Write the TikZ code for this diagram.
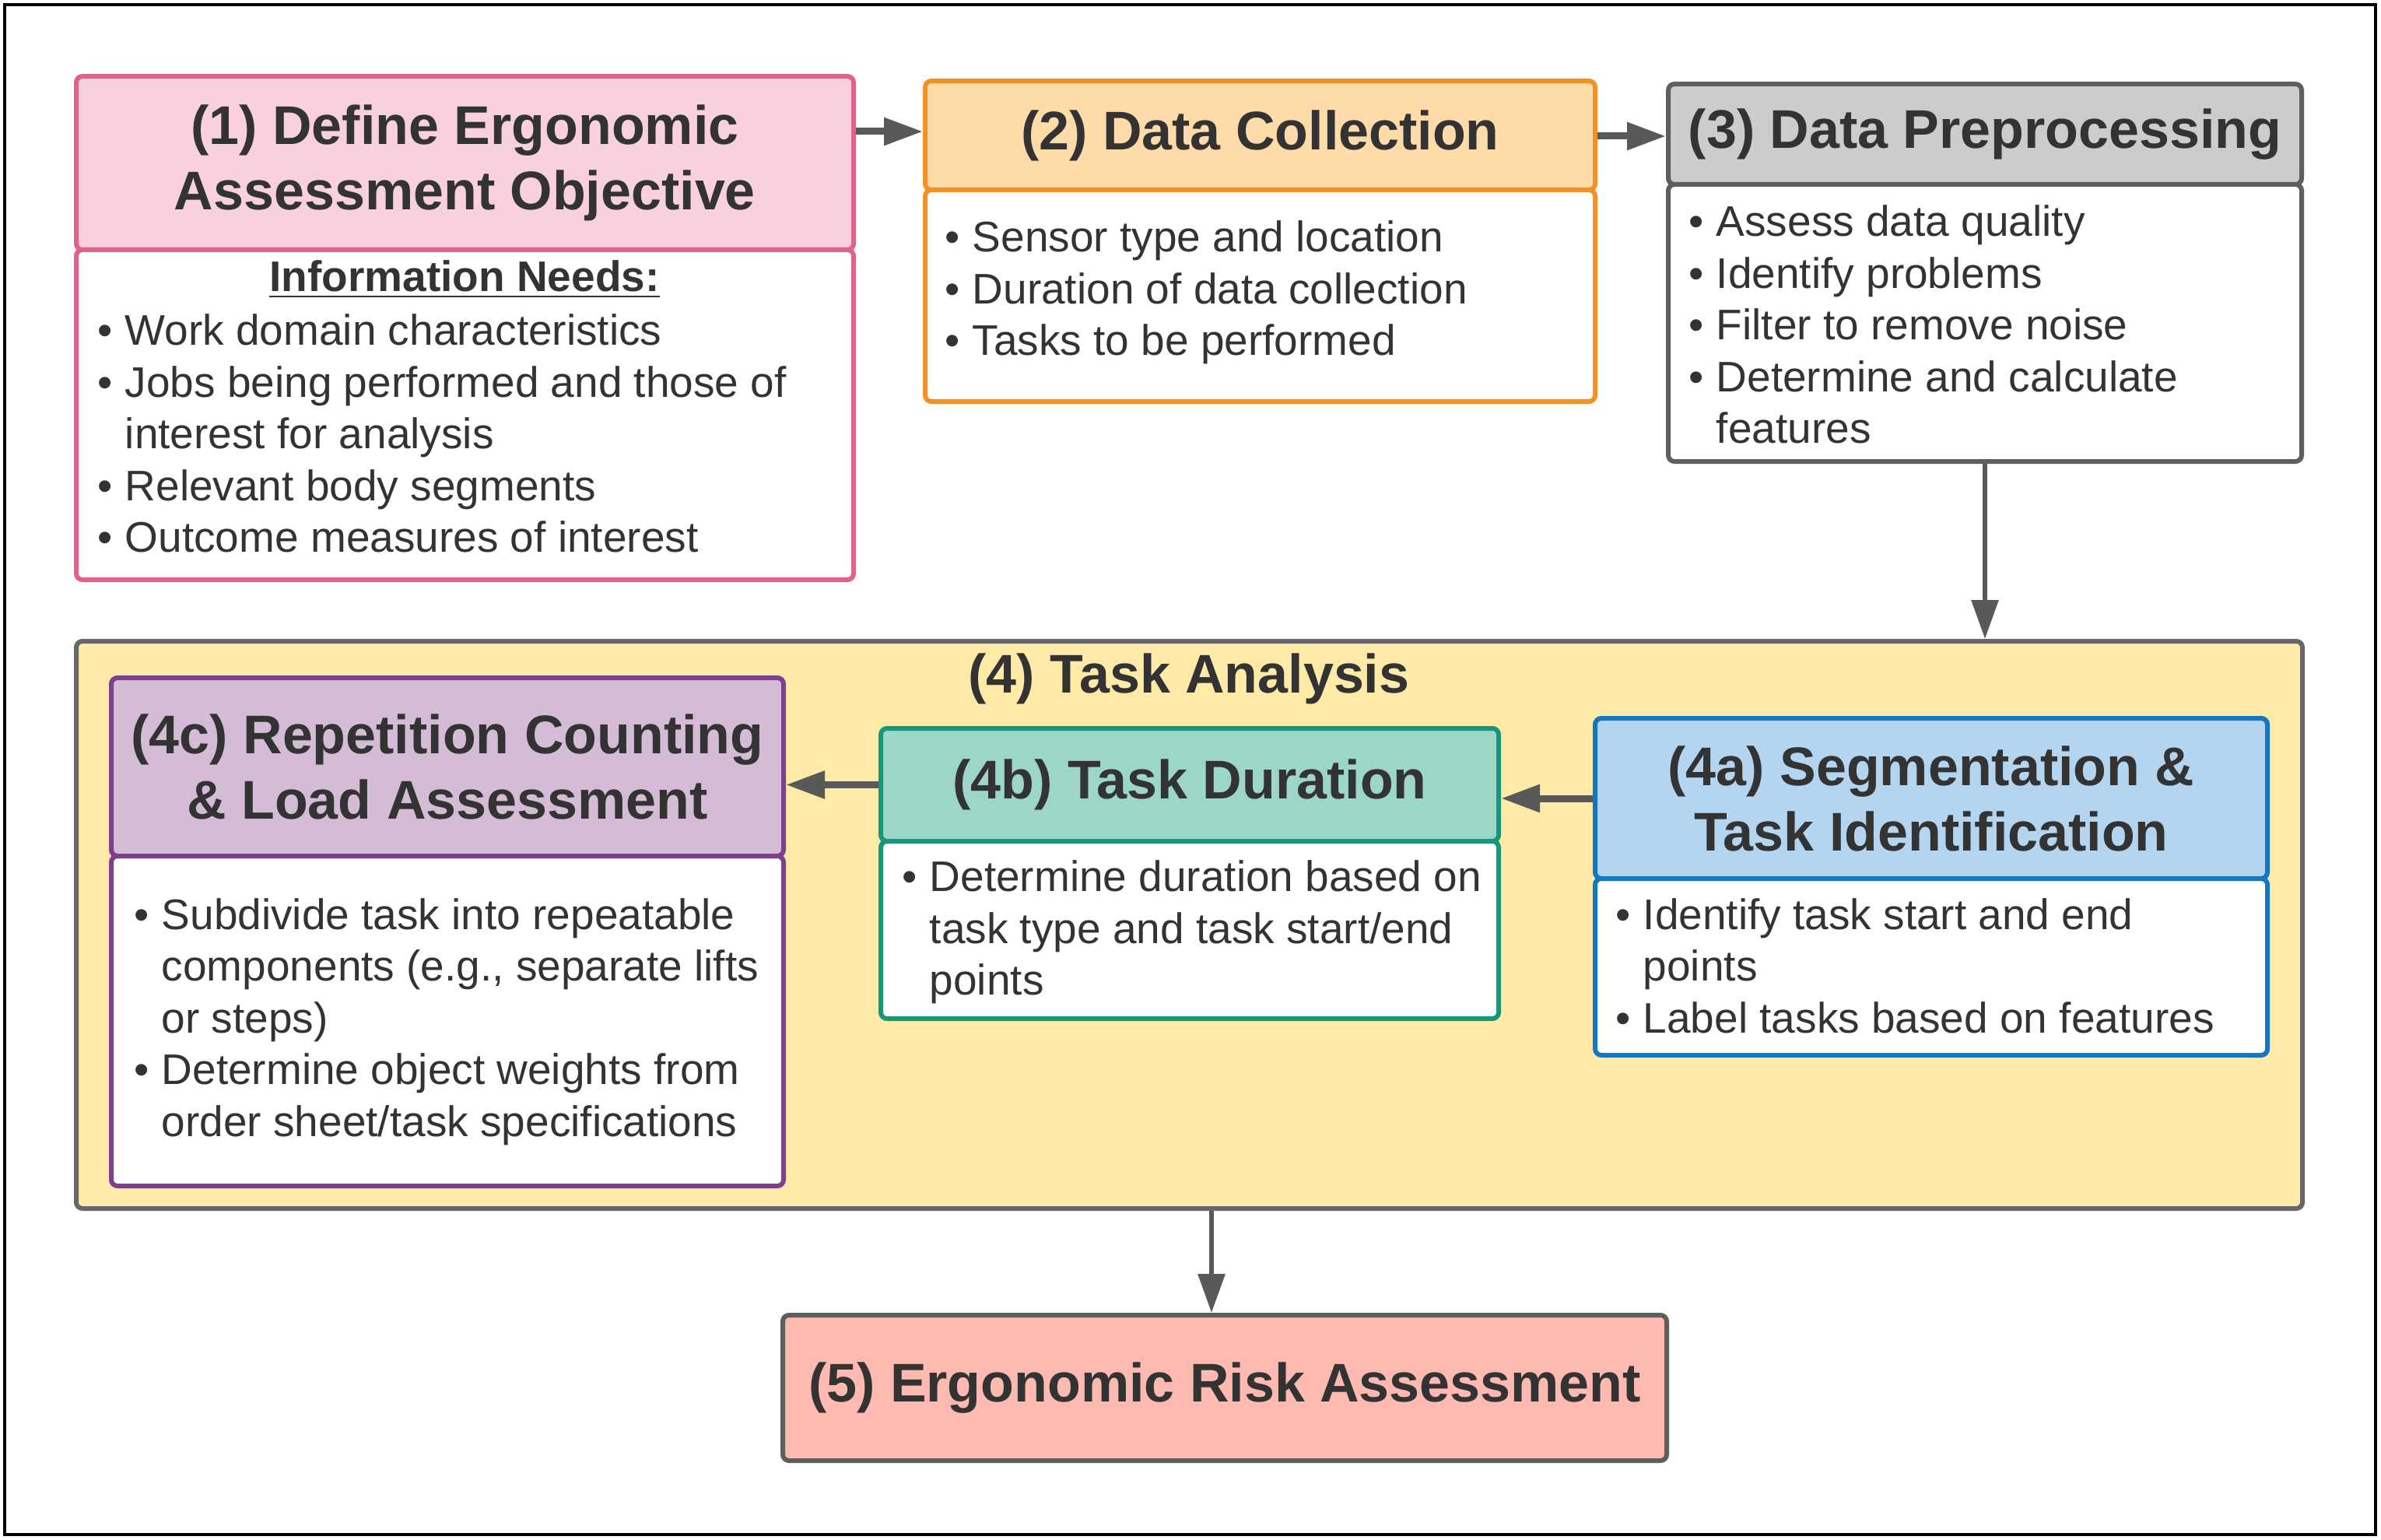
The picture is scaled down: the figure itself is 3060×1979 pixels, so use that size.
\documentclass[tikz,border=0pt]{standalone}
\usepackage{fontspec}
\setmainfont{Liberation Sans}
\usetikzlibrary{arrows.meta,calc}

\definecolor{textgray}{HTML}{333333}
\definecolor{arrowgray}{HTML}{595959}
\definecolor{pinkfill}{HTML}{F9D1DC}
\definecolor{pinkline}{HTML}{E0618A}
\definecolor{orangefill}{HTML}{FEDBA8}
\definecolor{orangeline}{HTML}{F29226}
\definecolor{grayfill}{HTML}{CCCCCC}
\definecolor{grayline}{HTML}{5E5E5E}
\definecolor{yellowfill}{HTML}{FFEAA7}
\definecolor{yellowline}{HTML}{676767}
\definecolor{purplefill}{HTML}{D4BCD6}
\definecolor{purpleline}{HTML}{7E3F8C}
\definecolor{tealfill}{HTML}{9BD6C9}
\definecolor{tealline}{HTML}{16977A}
\definecolor{bluefill}{HTML}{B3D5EF}
\definecolor{blueline}{HTML}{1577BF}
\definecolor{salmonfill}{HTML}{FEBAB1}

\newcommand\hdrfont{\fontsize{17.5}{21}\selectfont\bfseries}
\newcommand\txtfont{\fontsize{13.75}{16.6}\selectfont}
\newcommand\bitem{\makebox[8.75pt][l]{\textbullet}}
\newcommand\bcont{\hspace*{8.75pt}}

\begin{document}
\begin{tikzpicture}[x=0.25pt, y=-0.25pt, text=textgray,
  % box size given in the same units as the coordinates
  size/.style n args={2}{minimum width=#1*0.25pt, minimum height=#2*0.25pt},
  box/.style={draw, rounded corners=2pt, line width=1.5pt, inner sep=0pt},
  hdr/.style={box, align=center, font=\hdrfont},
  body/.style={box, fill=white},
  txt/.style={align=left, anchor=west, font=\txtfont, inner sep=0pt},
  flow/.style={draw=arrowgray, line width=2.25pt, -{Triangle[length=12.5pt,width=8.5pt]}},
  vflow/.style={flow, line width=1.5pt}]

% page and outer frame
\useasboundingbox (0,0) rectangle (3060,1979);
\fill[white] (0,0) rectangle (3060,1979);
\node[draw=black, line width=1.1pt, inner sep=0pt, size={3047}{1966}] (frame) at (1529.5,989) {};

% (1) objective
\node[body, draw=pinkline, size={999}{424}] (b1b) at (597.5,533) {};
\node[hdr, fill=pinkfill, draw=pinkline, size={999}{223}] (b1h) at (597.5,209.5) {(1) Define Ergonomic\\Assessment Objective};
\node[font=\txtfont\bfseries, inner sep=0pt] (b1i) at (597,359) {\underline{Information Needs:}};
\node[txt] (b1t) at (125,557) {\bitem Work domain characteristics\\
  \bitem Jobs being performed and those of\\
  \bcont interest for analysis\\
  \bitem Relevant body segments\\
  \bitem Outcome measures of interest};

% (2) data collection
\node[body, draw=orangeline, size={861}{272}] (b2b) at (1619.5,380) {};
\node[hdr, fill=orangefill, draw=orangeline, size={861}{140}] (b2h) at (1619.5,174) {(2) Data Collection};
\node[txt] (b2t) at (1214,376) {\bitem Sensor type and location\\
  \bitem Duration of data collection\\
  \bitem Tasks to be performed};

% (3) preprocessing
\node[body, draw=grayline, size={814}{356}] (b3b) at (2551,415) {};
\node[hdr, fill=grayfill, draw=grayline, size={814}{129}] (b3h) at (2551,172.5) {(3) Data Preprocessing};
\node[txt] (b3t) at (2170,417) {\bitem Assess data quality\\
  \bitem Identify problems\\
  \bitem Filter to remove noise\\
  \bitem Determine and calculate\\
  \bcont features};

% (4) task analysis container
\node[box, fill=yellowfill, draw=yellowline, size={2861}{729}] (b4) at (1528.5,1188.5) {};
\node[font=\hdrfont, inner sep=0pt] (b4title) at (1528,872) {(4) Task Analysis};

% (4c)
\node[body, draw=purpleline, size={864}{424}] (c4b) at (575,1312) {};
\node[hdr, fill=purplefill, draw=purpleline, size={864}{229}] (c4h) at (575,985.5) {(4c) Repetition Counting\\\&\ Load Assessment};
\node[txt] (c4t) at (172,1313) {\bitem Subdivide task into repeatable\\
  \bcont components (e.g., separate lifts\\
  \bcont or steps)\\
  \bitem Determine object weights from\\
  \bcont order sheet/task specifications};

% (4b)
\node[body, draw=tealline, size={794}{228}] (b4b) at (1529,1195) {};
\node[hdr, fill=tealfill, draw=tealline, size={794}{145}] (b4h) at (1529,1008.5) {(4b) Task Duration};
\node[txt] (b4t) at (1159,1198) {\bitem Determine duration based on\\
  \bcont task type and task start/end\\
  \bcont points};

% (4a)
\node[body, draw=blueline, size={864}{227}] (a4b) at (2482,1242.5) {};
\node[hdr, fill=bluefill, draw=blueline, size={864}{206}] (a4h) at (2482,1026) {(4a) Segmentation \&\\Task Identification};
\node[txt] (a4t) at (2076,1241) {\bitem Identify task start and end\\
  \bcont points\\
  \bitem Label tasks based on features};

% (5) risk assessment
\node[hdr, fill=salmonfill, draw=grayline, size={1136}{187}] (b5) at (1574,1783.5) {(5) Ergonomic Risk Assessment};

% connectors
\coordinate (r12) at (0,169);
\coordinate (r23) at (0,175);
\coordinate (c45) at (1557,0);
\draw[flow] (b1h.east |- r12) -- (b2h.west |- r12);
\draw[flow] (b2h.east |- r23) -- (b3h.west |- r23);
\draw[vflow] (b3b.south) -- (b3b.south |- b4.north);
\draw[flow] (a4h.west) -- (b4h.east |- a4h.west);
\draw[flow] (b4h.west) -- (c4h.east |- b4h.west);
\draw[vflow] (b4.south -| c45) -- (b5.north -| c45);
\end{tikzpicture}
\end{document}
